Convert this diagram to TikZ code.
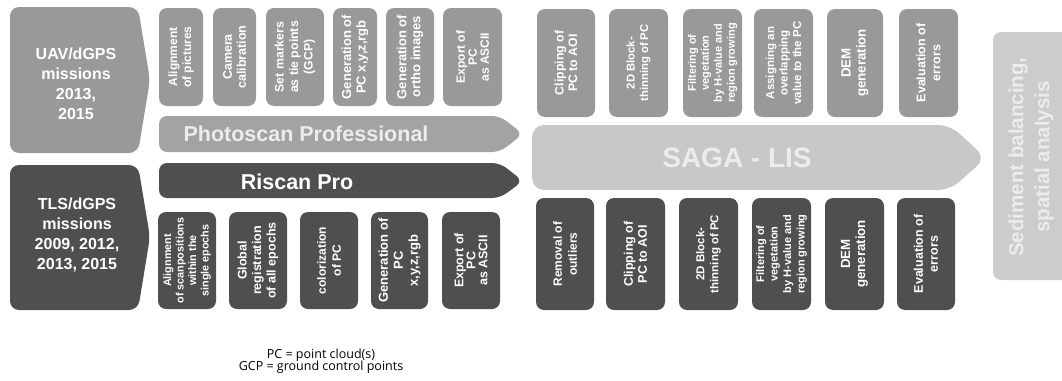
\documentclass[tikz,border=0pt]{standalone}
\usepackage{fontspec}
\setmainfont{Liberation Sans}
\newfontfamily\legendfont{Open Sans}
\definecolor{midgray}{HTML}{999999}
\definecolor{bargray}{HTML}{A3A3A3}
\definecolor{darkgray}{HTML}{4F4F4F}
\definecolor{lightgray}{HTML}{C8C8C8}
\definecolor{sidegray}{HTML}{CCCCCC}
\definecolor{paletext}{HTML}{ECECEC}
\begin{document}
\begin{tikzpicture}[x=1pt,y=-1pt,
  vbox/.style={rounded corners=8pt, inner sep=0pt, rotate=90, align=center, text=white},
  fs/.style 2 args={font=\bfseries\fontsize{#1}{#2}\selectfont},
  topbox/.style={vbox, fill=midgray},
  botbox/.style={vbox, fill=darkgray},
  bigtext/.style={text=white, align=center, fs={16}{20}},
  bartext/.style={text=paletext, fs={21.5}{24}},
]
\useasboundingbox (0,0) rectangle (1062,380);

% left mission blocks
\fill[midgray, rounded corners=9pt] (10,7) -- (138,7) -- (150,80) -- (138,153) -- (10,153) -- cycle;
\node[bigtext] (uav) at (76,84) {UAV/dGPS\\missions\\2013,\\2015};
\fill[darkgray, rounded corners=9pt] (10,165) -- (138,165) -- (150,237) -- (138,310) -- (10,310) -- cycle;
\node[bigtext] (tls) at (77,235) {TLS/dGPS\\missions\\2009, 2012,\\2013, 2015};

% software bars
\fill[bargray, rounded corners=8pt] (159,116) -- (500,116) -- (523,134) -- (500,152) -- (159,152) -- cycle;
\node[bartext] (photo) at (306,134) {Photoscan Professional};
\fill[darkgray, rounded corners=8pt] (159,163) -- (500,163) -- (523,181) -- (500,198) -- (159,198) -- cycle;
\node[bartext, text=white] (riscan) at (297,182) {Riscan Pro};

% SAGA bar
\fill[lightgray, rounded corners=12pt] (532,125) -- (950,125) -- (986,158) -- (950,190) -- (532,190) -- cycle;
\node[text=paletext, fs={28}{30}] (saga) at (737,158) {SAGA - LIS};

% right box
\fill[sidegray, rounded corners=8pt] (993,32) rectangle (1075,280);
\node[rotate=90, align=center, text=paletext, fs={20.5}{26}] (sed) at (1031,157) {Sediment balancing,\\spatial analysis};

% top-left boxes (y 8-106)
\node[topbox, fs={12}{14}, minimum width=98pt, minimum height=44pt] (t1) at (181,57) {Alignment\\of pictures};
\node[topbox, fs={12.5}{14}, minimum width=98pt, minimum height=43pt] (t2) at (234.5,57) {Camera\\calibration};
\node[topbox, fs={12.3}{14.5}, minimum width=98pt, minimum height=58pt] (t3) at (295,57) {Set markers\\as tie points\\(GCP)};
\node[topbox, fs={13}{14.5}, minimum width=98pt, minimum height=44pt] (t4) at (355,57) {Generation of\\PC x,y,z,rgb};
\node[topbox, fs={13}{14}, minimum width=98pt, minimum height=48pt] (t5) at (410,57) {Generation of\\ortho images};
\node[topbox, fs={12}{12}, minimum width=98pt, minimum height=59pt] (t6) at (472.5,57) {Export of\\PC\\as ASCII};

% bottom-left boxes (y 212-309)
\node[botbox, fs={10.8}{12.5}, minimum width=97pt, minimum height=58pt] (b1) at (187,260.5) {Alignment\\of scanpositions\\within the\\single epochs};
\node[botbox, fs={12.5}{14.5}, minimum width=97pt, minimum height=58pt] (b2) at (258,260.5) {Global\\registration\\of all epochs};
\node[botbox, fs={12}{15}, minimum width=97pt, minimum height=58pt] (b3) at (329,260.5) {colorization\\of PC};
\node[botbox, fs={13}{15}, minimum width=97pt, minimum height=57pt] (b4) at (399.5,260.5) {Generation of\\PC\\x,y,z,rgb};
\node[botbox, fs={12.5}{12}, minimum width=97pt, minimum height=58pt] (b5) at (471,260.5) {Export of\\PC\\as ASCII};

% top-right boxes (y 9-117)
\node[topbox, fs={12.3}{13.5}, minimum width=108pt, minimum height=58pt] (s1) at (566,63) {Clipping of\\PC to AOI};
\node[topbox, fs={11.3}{13.5}, minimum width=108pt, minimum height=59pt] (s2) at (638.5,63) {2D Block-\\thinning of PC};
\node[topbox, fs={11}{13}, minimum width=108pt, minimum height=59pt] (s3) at (712.5,63) {Filtering of\\vegetation\\by H-value and\\region growing};
\node[topbox, fs={11.5}{13.5}, minimum width=108pt, minimum height=59pt] (s4) at (783.5,63) {Assigning an\\overlapping\\value to the PC};
\node[topbox, fs={13.3}{15}, minimum width=108pt, minimum height=56pt] (s5) at (855,63) {DEM\\generation};
\node[topbox, fs={12.5}{15}, minimum width=108pt, minimum height=59pt] (s6) at (928.5,63) {Evaluation of\\errors};

% bottom-right boxes (y 198-310)
\node[botbox, fs={12}{15}, minimum width=112pt, minimum height=58pt] (r1) at (565,254) {Removal of\\outliers};
\node[botbox, fs={12.5}{14}, minimum width=112pt, minimum height=59pt] (r2) at (635.5,254) {Clipping of\\PC to AOI};
\node[botbox, fs={11.5}{14}, minimum width=112pt, minimum height=59pt] (r3) at (708.5,254) {2D Block-\\thinning of PC};
\node[botbox, fs={11}{13.5}, minimum width=112pt, minimum height=59pt] (r4) at (781.5,254) {Filtering of\\vegetation\\by H-value and\\region growing};
\node[botbox, fs={13.3}{15}, minimum width=112pt, minimum height=59pt] (r5) at (854.5,254) {DEM\\generation};
\node[botbox, fs={12.5}{15}, minimum width=112pt, minimum height=58pt] (r6) at (926,254) {Evaluation of\\errors};

% legend
\node[align=center, font=\legendfont\fontsize{12.5}{12.5}\selectfont] (legend) at (321,361) {PC = point cloud(s)\\GCP = ground control points};
\end{tikzpicture}
\end{document}
